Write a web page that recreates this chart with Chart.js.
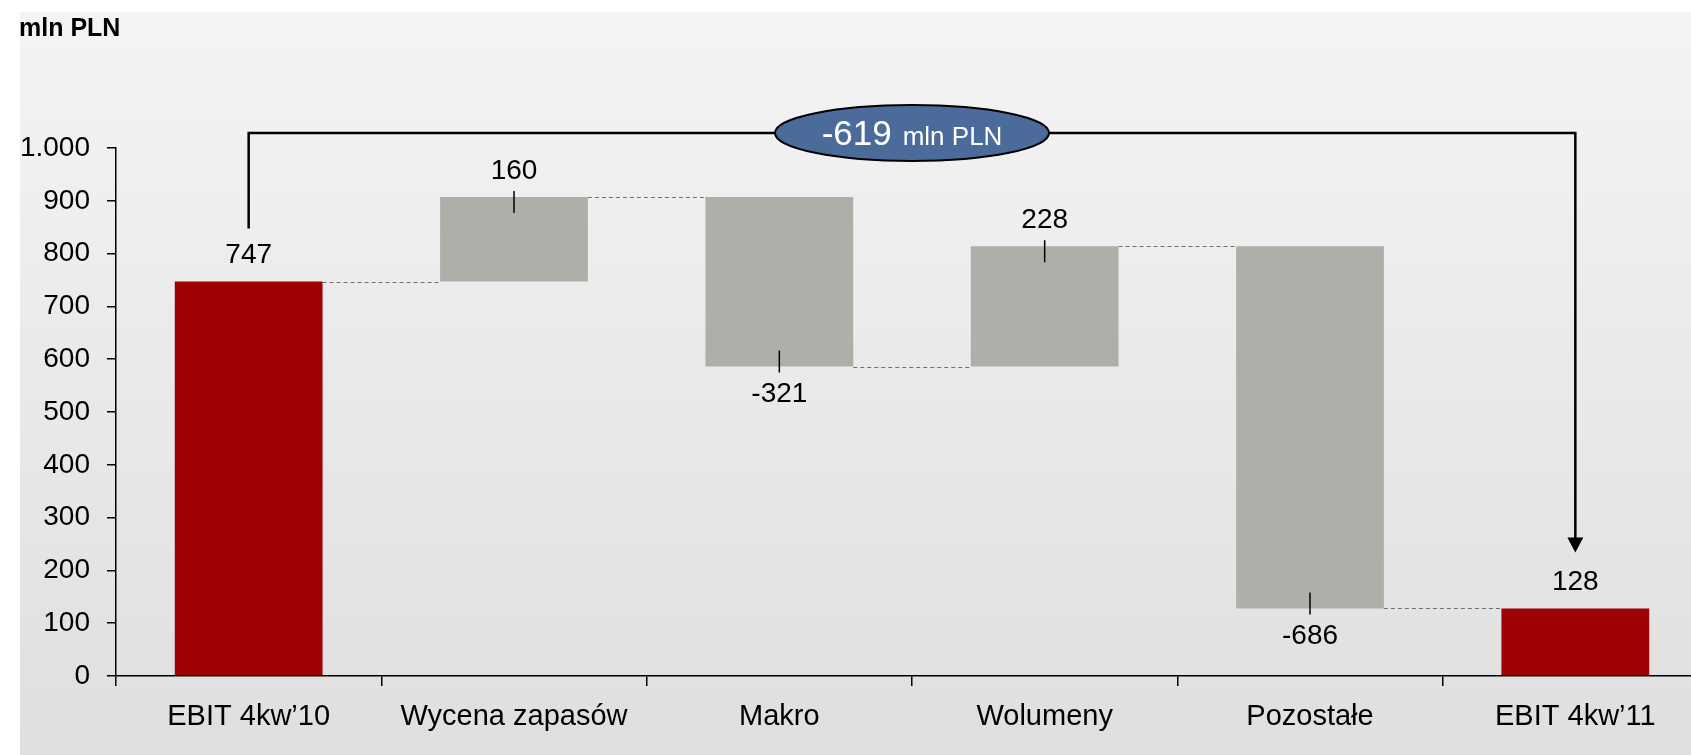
<!DOCTYPE html>
<html lang="pl">
<head>
<meta charset="utf-8">
<title>EBIT 4kw'10 - 4kw'11</title>
<script src="https://cdn.jsdelivr.net/npm/chart.js@4.4.0/dist/chart.umd.min.js"></script>
<style>
  html, body { margin: 0; padding: 0; background: #fff; overflow: hidden; }
  #wrap { position: absolute; left: 0; top: 0; width: 1720px; height: 755px; }
  #unit { position: absolute; left: 19px; top: 13px; line-height: 1; font: bold 25px "Liberation Sans", Arial, sans-serif; color: #000; }
</style>
</head>
<body>
<div id="wrap"><canvas id="chart"></canvas></div>
<div id="unit">mln PLN</div>
<script>
const CATEGORIES = ["EBIT 4kw\u201910", "Wycena zapasów", "Makro", "Wolumeny", "Pozostałe", "EBIT 4kw\u201911"];
const START_VALUE = 747;
const CHANGES = [160, -321, 228, -686];
const END_VALUE = 128;
const BRIDGE_DELTA = -619;
const Y_TICKS = [0, 100, 200, 300, 400, 500, 600, 700, 800, 900, 1000];

const FONT = '"Liberation Sans", Arial, sans-serif';
const RED = "#9e0202";
const GREY = "#afafaa";

// running totals after each bar, and the floating [low, high] ranges
const running = [START_VALUE];
for (const c of CHANGES) running.push(running[running.length - 1] + c);
const ranges = [[0, START_VALUE]];
CHANGES.forEach((c, i) => {
  const a = running[i], b = running[i + 1];
  ranges.push([Math.min(a, b), Math.max(a, b)]);
});
ranges.push([0, END_VALUE]);
const labels = [START_VALUE, ...CHANGES, END_VALUE];
const colors = labels.map((v, i) => (i === 0 || i === labels.length - 1) ? RED : GREY);

function fmtThousands(v) {
  return String(v).replace(/\B(?=(\d{3})+(?!\d))/g, ".");
}

const waterfallDecor = {
  id: "waterfallDecor",
  beforeDraw(chart) {
    const { ctx, width, height } = chart;
    // panel background starts a little in from the page corner
    const g = ctx.createLinearGradient(0, 12, 0, height);
    g.addColorStop(0, "#f4f4f4");
    g.addColorStop(1, "#dfdfdf");
    ctx.save();
    ctx.fillStyle = g;
    ctx.fillRect(20, 12, width - 20, height - 12);
    ctx.restore();
  },
  afterDatasetsDraw(chart) {
    const ctx = chart.ctx;
    const meta = chart.getDatasetMeta(0);
    const y = chart.scales.y;
    ctx.save();

    // dashed connectors between bars
    ctx.strokeStyle = "#707070";
    ctx.lineWidth = 1.2;
    ctx.setLineDash([4, 3]);
    for (let i = 0; i < meta.data.length - 1; i++) {
      const a = meta.data[i], b = meta.data[i + 1];
      const py = Math.round(y.getPixelForValue(running[i])) + 0.5;
      ctx.beginPath();
      ctx.moveTo(a.x + a.width / 2, py);
      ctx.lineTo(b.x - b.width / 2, py);
      ctx.stroke();
    }
    ctx.setLineDash([]);

    // value labels
    ctx.fillStyle = "#000";
    ctx.strokeStyle = "#000";
    ctx.lineWidth = 1.5;
    ctx.font = "28px " + FONT;
    ctx.textAlign = "center";
    ctx.textBaseline = "middle";
    meta.data.forEach((bar, i) => {
      const top = y.getPixelForValue(ranges[i][1]);
      const bottom = y.getPixelForValue(ranges[i][0]);
      const v = labels[i];
      const isChange = i > 0 && i < labels.length - 1;
      if (v >= 0) {
        ctx.fillText(String(v), bar.x, top - 26);
        if (isChange) {
          ctx.beginPath(); ctx.moveTo(bar.x, top - 6); ctx.lineTo(bar.x, top + 16); ctx.stroke();
        }
      } else {
        ctx.fillText(String(v), bar.x, bottom + 28);
        if (isChange) {
          ctx.beginPath(); ctx.moveTo(bar.x, bottom - 16); ctx.lineTo(bar.x, bottom + 6); ctx.stroke();
        }
      }
    });

    // bracket from first to last total
    const first = meta.data[0], last = meta.data[meta.data.length - 1];
    const xl = first.x, xr = last.x;
    const yb = y.getPixelForValue(1000) - 15;
    const tipY = y.getPixelForValue(END_VALUE) - 56;
    ctx.lineWidth = 2.5;
    ctx.beginPath();
    ctx.moveTo(xl, y.getPixelForValue(START_VALUE) - 53);
    ctx.lineTo(xl, yb);
    ctx.lineTo(xr, yb);
    ctx.lineTo(xr, tipY - 12);
    ctx.stroke();
    ctx.beginPath();
    ctx.moveTo(xr - 8, tipY - 15);
    ctx.lineTo(xr + 8, tipY - 15);
    ctx.lineTo(xr, tipY);
    ctx.closePath();
    ctx.fill();

    // ellipse with total change
    const cx = (xl + xr) / 2;
    ctx.beginPath();
    ctx.ellipse(cx, yb, 137, 28, 0, 0, Math.PI * 2);
    ctx.fillStyle = "#4b6b9b";
    ctx.fill();
    ctx.lineWidth = 2;
    ctx.stroke();

    const big = String(BRIDGE_DELTA), small = "mln PLN";
    ctx.font = "35px " + FONT;
    const wBig = ctx.measureText(big).width;
    ctx.font = "26px " + FONT;
    const wSmall = ctx.measureText(small).width;
    const gap = 11;
    const startX = cx - (wBig + gap + wSmall) / 2;
    ctx.fillStyle = "#fff";
    ctx.textAlign = "left";
    ctx.textBaseline = "alphabetic";
    ctx.font = "35px " + FONT;
    ctx.fillText(big, startX, yb + 12);
    ctx.font = "26px " + FONT;
    ctx.fillText(small, startX + wBig + gap, yb + 12);

    ctx.restore();
  }
};

new Chart(document.getElementById("chart"), {
  type: "bar",
  data: {
    labels: CATEGORIES,
    datasets: [{
      data: ranges,
      backgroundColor: colors,
      borderWidth: 0,
      barPercentage: 0.557,
      categoryPercentage: 1
    }]
  },
  options: {
    responsive: true,
    maintainAspectRatio: false,
    animation: false,
    layout: { padding: { top: 148, right: 12, left: 0, bottom: 0 } },
    plugins: { legend: { display: false }, tooltip: { enabled: false } },
    scales: {
      x: {
        offset: true,
        grid: { offset: true, drawOnChartArea: false, color: "#000", lineWidth: 1.5, tickLength: 10 },
        border: { color: "#000", width: 1.5 },
        ticks: { color: "#000", font: { family: FONT, size: 29 }, padding: 14, maxRotation: 0, autoSkip: false },
        afterFit: s => { s.height = 79; }
      },
      y: {
        min: 0,
        max: 1000,
        grid: { drawOnChartArea: false, color: "#000", lineWidth: 1.5, tickLength: 9 },
        border: { color: "#000", width: 1.5 },
        ticks: { color: "#000", font: { family: FONT, size: 28 }, padding: 17, callback: v => fmtThousands(v) },
        afterBuildTicks: s => { s.ticks = Y_TICKS.map(v => ({ value: v })); },
        afterFit: s => { s.width = 116; }
      }
    }
  },
  plugins: [waterfallDecor]
});
</script>
</body>
</html>
